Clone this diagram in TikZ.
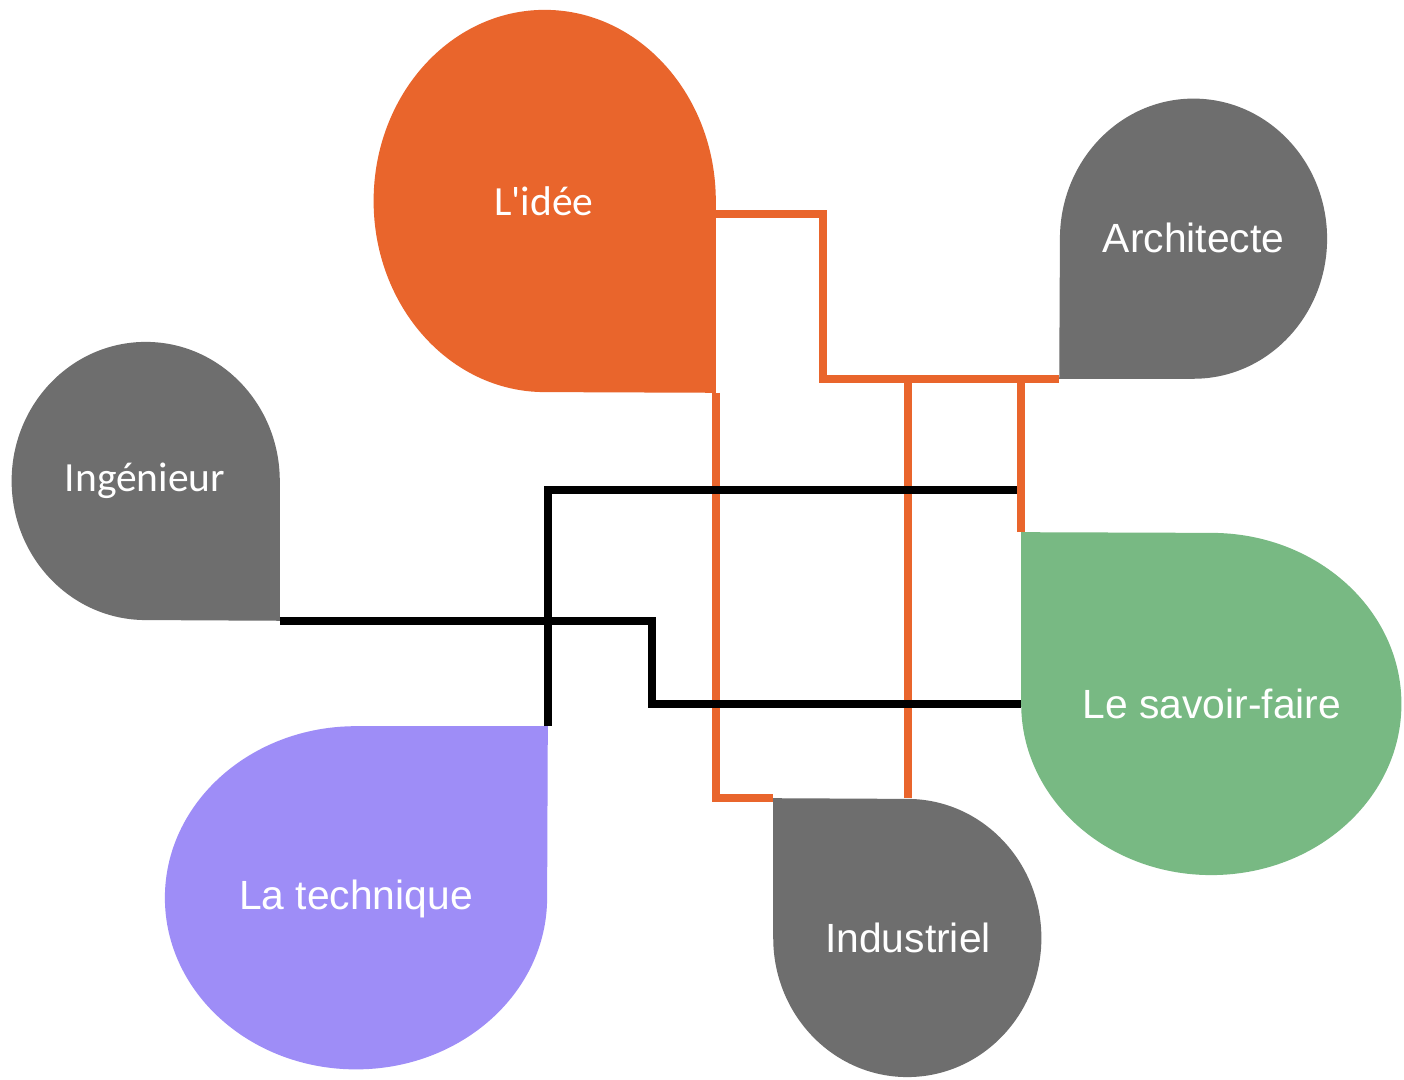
\documentclass[tikz,border=0pt]{standalone}
\usepackage{fontspec}
\setmainfont{Liberation Sans}
\newfontfamily\carlito{Carlito}
\usetikzlibrary{positioning, calc, backgrounds}

\definecolor{ideeorange}{RGB}{233,101,44}
\definecolor{dropgray}{RGB}{110,110,110}
\definecolor{savoirgreen}{RGB}{120,185,131}
\definecolor{techpurple}{RGB}{158,141,247}

\begin{document}
\begin{tikzpicture}[
    x=0.01cm, y=0.01cm,
    drop/.style={rectangle, inner sep=0pt, align=center, text=white, font=\fontsize{11.6}{14}\selectfont},
    humanist/.style={font=\carlito\fontsize{11.8}{14}\selectfont},
    orangeline/.style={line width=0.075cm, color=ideeorange},
    blackline/.style={line width=0.08cm, color=black}
]

% Drops (text boxes, the shapes are filled behind them)
\node[drop, humanist, minimum width=3.42cm, minimum height=3.82cm] (idee) at (544,879) {L'idée};
\node[drop, minimum width=2.67cm, minimum height=2.80cm] (archi) at (1193.5,842) {Architecte};
\node[drop, humanist, minimum width=2.68cm, minimum height=2.78cm] (inge) at (145,599) {Ingénieur};
\node[drop, minimum width=3.80cm, minimum height=3.42cm] (savoir) at (1212,376) {Le savoir-faire};
\node[drop, minimum width=3.82cm, minimum height=3.43cm] (techn) at (356,181.5) {La technique};
\node[drop, minimum width=2.68cm, minimum height=2.78cm] (indus) at (908,142) {Industriel};

\begin{scope}[on background layer]
    \fill[white] (0,0) rectangle (1404,1080);
    % one sharp corner each, the rest is an ellipse
    \fill[ideeorange] (idee.south east) -- (idee.east) arc[start angle=0, end angle=270, x radius=1.71cm, y radius=1.91cm] -- cycle;
    \fill[dropgray] (archi.south west) -- (archi.south) arc[start angle=-90, end angle=180, x radius=1.335cm, y radius=1.40cm] -- cycle;
    \fill[dropgray] (inge.south east) -- (inge.east) arc[start angle=0, end angle=270, x radius=1.34cm, y radius=1.39cm] -- cycle;
    \fill[savoirgreen] (savoir.north west) -- (savoir.west) arc[start angle=180, end angle=450, x radius=1.90cm, y radius=1.71cm] -- cycle;
    \fill[techpurple] (techn.north east) -- (techn.north) arc[start angle=90, end angle=360, x radius=1.91cm, y radius=1.715cm] -- cycle;
    \fill[dropgray] (indus.north west) -- (indus.west) arc[start angle=180, end angle=450, x radius=1.34cm, y radius=1.39cm] -- cycle;
\end{scope}

% Orange links
\draw[orangeline] ($(idee.east)+(0,-13)$) -- ++(107,0) |- (archi.south west);
\draw[orangeline] (idee.south east) |- (indus.north west);
\draw[orangeline] (indus.north) -- (indus.north |- archi.south west);
\draw[orangeline] (savoir.north west) -- (savoir.north west |- archi.south west);

% Black links
\coordinate (kn) at ($(savoir.north west)+(-4,42)$);
\draw[blackline] (techn.north east) |- (kn);
\draw[blackline] (inge.south east) -- ++(372,0) |- (savoir.west);

\end{tikzpicture}
\end{document}
